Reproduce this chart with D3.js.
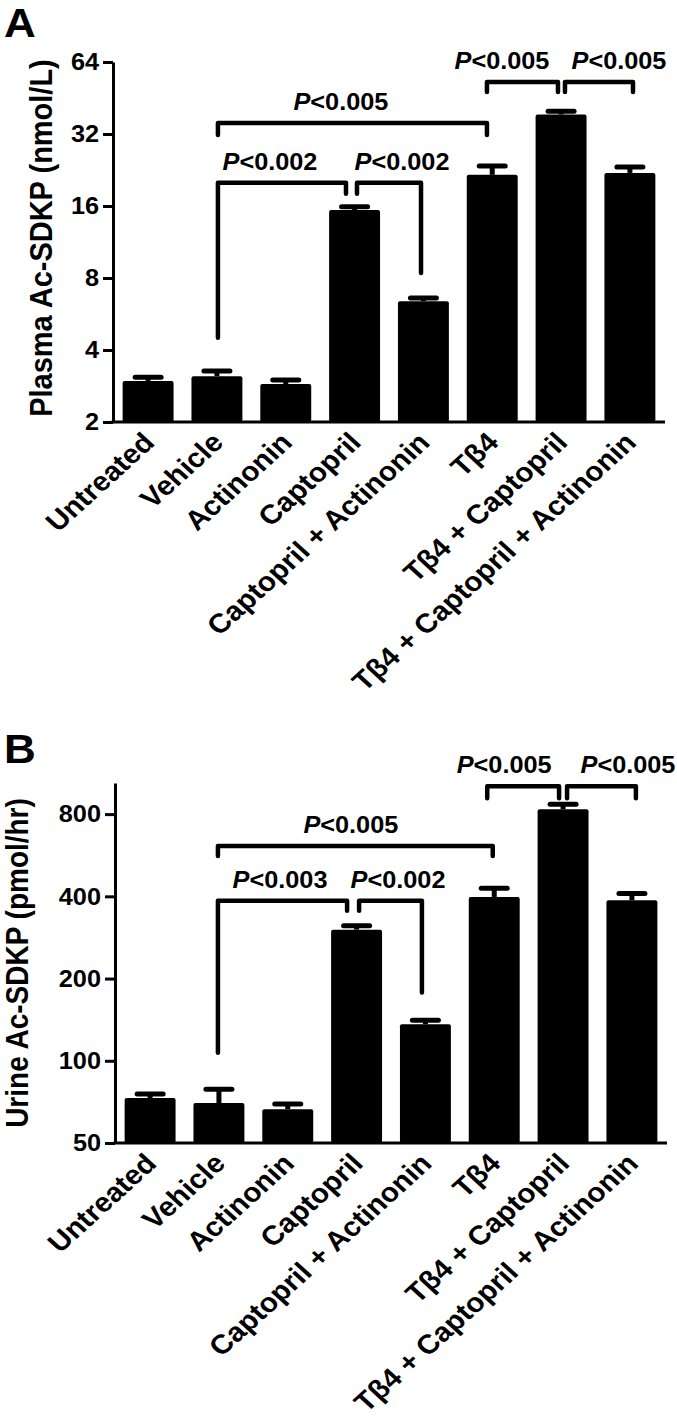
<!DOCTYPE html>
<html><head><meta charset="utf-8">
<script src="https://cdn.jsdelivr.net/npm/d3@7"></script>
<style>
html,body{margin:0;padding:0;background:#fff;}
text{font-family:"Liberation Sans",Arial,Helvetica,sans-serif;font-weight:bold;fill:#000;}
</style></head>
<body>
<svg id="chart" width="677" height="1418"></svg>
<script>
// ---------- data ----------
const categories = ["Untreated","Vehicle","Actinonin","Captopril","Captopril + Actinonin","Tβ4","Tβ4 + Captopril","Tβ4 + Captopril + Actinonin"];

const plasmaMean = [2.97, 3.11, 2.88, 15.4, 6.4, 21.6, 38.6, 22.0];
const plasmaSEM  = [0.11, 0.16, 0.12, 0.5, 0.2, 1.9, 1.2, 1.3];
const plasmaTicks = [2, 4, 8, 16, 32, 64];

const urineMean = [73, 70, 66.5, 302, 136, 398, 834, 387];
const urineSEM  = [2.5, 8.7, 2.9, 10, 4.6, 30, 36, 23];
const urineTicks = [50, 100, 200, 400, 800];

const plasmaBrackets = [
  {from:1, to:3, p:"0.002", level:20,   end1:4.5,  end2:18},
  {from:3, to:4, p:"0.002", level:20,   end1:18,   end2:8.4},
  {from:1, to:5, p:"0.005", level:35.6, end1:31.7, end2:31.7},
  {from:5, to:6, p:"0.005", level:52.8, end1:47.9, end2:47.9},
  {from:6, to:7, p:"0.005", level:52.8, end1:47.9, end2:47.9}
];
const urineBrackets = [
  {from:1, to:3, p:"0.003", level:385,  end1:107, end2:354},
  {from:3, to:4, p:"0.002", level:385,  end1:354, end2:178},
  {from:1, to:5, p:"0.005", level:611,  end1:562, end2:562},
  {from:5, to:6, p:"0.005", level:1012, end1:915, end2:915},
  {from:6, to:7, p:"0.005", level:1012, end1:915, end2:915}
];

// ---------- layout (code-side) ----------
const SX = 1.1; // horizontal text stretch of the original figure
const svg = d3.select("#chart");

function drawPanel(cfg) {
  const g = svg.append("g");
  const x = d3.scaleBand().domain(categories)
      .range([cfg.axisX, cfg.xEnd]).paddingInner(0.26).paddingOuter(0.14);
  const y = d3.scaleLog().base(2).domain(cfg.domain).range([cfg.yBottom, cfg.yTop]);
  const cx = i => x(categories[i]) + x.bandwidth() / 2;

  // bars
  g.selectAll("rect.bar").data(cfg.mean).join("rect")
    .attr("x", (d,i) => x(categories[i]))
    .attr("width", x.bandwidth())
    .attr("y", d => y(d))
    .attr("height", d => cfg.yBottom - y(d))
    .attr("rx", 2).attr("fill", "#000");

  // error bars
  const eb = g.selectAll("g.err").data(cfg.mean).join("g");
  eb.append("line")
    .attr("x1", (d,i) => cx(i)).attr("x2", (d,i) => cx(i))
    .attr("y1", d => y(d)).attr("y2", (d,i) => y(d + cfg.sem[i]))
    .attr("stroke", "#000").attr("stroke-width", 5);
  eb.append("line")
    .attr("x1", (d,i) => cx(i) - 13).attr("x2", (d,i) => cx(i) + 13)
    .attr("y1", (d,i) => y(d + cfg.sem[i])).attr("y2", (d,i) => y(d + cfg.sem[i]))
    .attr("stroke", "#000").attr("stroke-width", 5).attr("stroke-linecap", "round");

  // y axis
  const yAxis = d3.axisLeft(y).tickValues(cfg.ticks).tickFormat(d3.format("d")).tickSize(10).tickSizeOuter(0);
  const ag = g.append("g").attr("transform", `translate(${cfg.axisX},0)`).call(yAxis);
  ag.select(".domain").attr("stroke", "#000").attr("stroke-width", 3);
  ag.selectAll(".tick line").attr("stroke", "#000").attr("stroke-width", 3);
  ag.selectAll(".tick text").remove();
  g.selectAll("text.tl").data(cfg.ticks).join("text")
    .attr("transform", d => `translate(${cfg.axisX - 14},${y(d)}) scale(${SX},1)`)
    .attr("text-anchor", "end").attr("dy", "0.36em")
    .style("font-size", "23px").text(d => d);

  // x baseline
  g.append("line").attr("x1", cfg.axisX - 1.5).attr("x2", cfg.xEnd)
    .attr("y1", cfg.yBottom).attr("y2", cfg.yBottom)
    .attr("stroke", "#000").attr("stroke-width", 3);

  // x labels
  g.selectAll("text.xl").data(categories).join("text")
    .attr("transform", (d,i) => `translate(${cx(i) + 8},${cfg.yBottom + 22}) scale(${SX},1) rotate(-45)`)
    .attr("text-anchor", "end")
    .style("font-size", "27px").text(d => d);

  // y title
  g.append("text")
    .attr("transform", `translate(${cfg.titleX},${cfg.titleY}) scale(${SX},1) rotate(-90)`)
    .attr("text-anchor", "middle").style("font-size", cfg.titleSize + "px").text(cfg.title);

  // panel letter
  g.append("text").attr("transform", `translate(4,${cfg.letterY}) scale(${SX},1)`)
    .style("font-size", "40px").text(cfg.letter);

  // brackets
  cfg.brackets.forEach((b, k) => {
    const x1 = cx(b.from) + cfg.bOff[k][0];
    const x2 = cx(b.to) + cfg.bOff[k][1];
    const yl = y(b.level);
    g.append("path")
      .attr("d", `M${x1},${y(b.end1)}V${yl}H${x2}V${y(b.end2)}`)
      .attr("fill", "none").attr("stroke", "#000").attr("stroke-width", 4.5)
      .attr("stroke-linecap", "round").attr("stroke-linejoin", "round");
    const t = g.append("text")
      .attr("transform", `translate(${(x1 + x2) / 2 + cfg.lOff[k]},${yl - 13}) scale(${SX},1)`)
      .attr("text-anchor", "middle").style("font-size", "23px");
    t.append("tspan").style("font-style", "italic").text("P");
    t.append("tspan").text("<" + b.p);
  });
}

drawPanel({
  letter: "A", letterY: 37,
  axisX: 113, xEnd: 665, yTop: 62, yBottom: 422, domain: [2, 64],
  mean: plasmaMean, sem: plasmaSEM, ticks: plasmaTicks,
  title: "Plasma Ac-SDKP (nmol/L)", titleX: 52, titleY: 238, titleSize: 29,
  brackets: plasmaBrackets,
  bOff: [[1,-8.6],[2.4,-2.4],[1,-5.3],[-5.3,-3.1],[3.9,3.1]],
  lOff: [-12, 13, -11.5, -20.5, 20]
});

drawPanel({
  letter: "B", letterY: 763,
  axisX: 115, xEnd: 667, yTop: 783, yBottom: 1143, domain: [50, 1040],
  mean: urineMean, sem: urineSEM, ticks: urineTicks,
  title: "Urine Ac-SDKP (pmol/hr)", titleX: 28, titleY: 963, titleSize: 28,
  brackets: urineBrackets,
  bOff: [[-1,-9.5],[2.5,-3.5],[-1,-1.5],[-7,-4],[4,4]],
  lOff: [-2.5, 7.5, -4.5, -19, 26.5]
});
</script>
</body></html>
